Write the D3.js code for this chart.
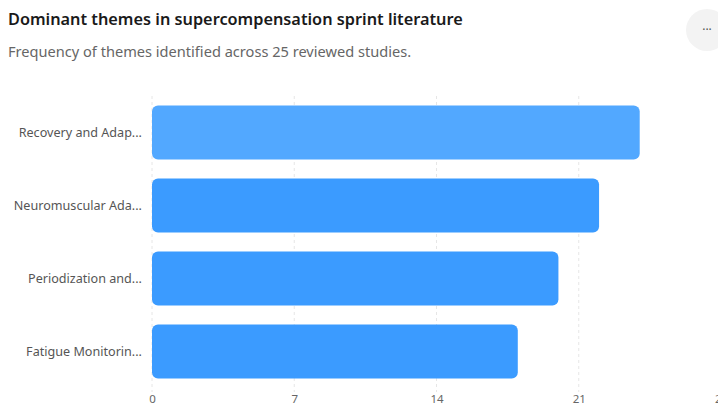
<!DOCTYPE html>
<html>
<head>
<meta charset="utf-8">
<script src="https://cdn.jsdelivr.net/npm/d3@7/dist/d3.min.js"></script>
<style>
  html, body { margin: 0; padding: 0; background: #fff; }
  svg { display: block; font-family: "Noto Sans", "Open Sans", sans-serif; }
</style>
</head>
<body>
<svg id="chart" width="718" height="409"></svg>
<script>
const categories = ["Recovery and Adap...", "Neuromuscular Ada...", "Periodization and...", "Fatigue Monitorin..."];
const values = [24, 22, 20, 18];
const tickValues = [0, 7, 14, 21, 28];
const barColors = ["#52a8ff", "#3b9bff", "#3b9bff", "#3b9bff"];

const svg = d3.select("#chart");

svg.append("text").attr("x", 8).attr("y", 25)
  .attr("font-size", 16.3).attr("font-weight", 600).attr("fill", "#1a1a1a")
  .text("Dominant themes in supercompensation sprint literature");
svg.append("text").attr("x", 8).attr("y", 57)
  .attr("font-size", 14.6).attr("fill", "#666")
  .text("Frequency of themes identified across 25 reviewed studies.");

// menu button
svg.append("circle").attr("cx", 707).attr("cy", 30).attr("r", 21).attr("fill", "#f3f3f3");
svg.append("text").attr("x", 707).attr("y", 34).attr("text-anchor", "middle")
  .attr("font-size", 12).attr("fill", "#555").text("···");

const x = d3.scaleLinear().domain([0, 28]).range([152, 721]);
const y = d3.scaleBand().domain(categories).range([96, 388]).paddingInner(0.26).paddingOuter(0.13);

// grid
svg.append("g").selectAll("line").data(tickValues).join("line")
  .attr("x1", d => x(d)).attr("x2", d => x(d))
  .attr("y1", 96).attr("y2", 392)
  .attr("stroke", "#e6e6e6").attr("stroke-width", 1).attr("stroke-dasharray", "3,3");

// bars
svg.append("g").selectAll("rect").data(categories).join("rect")
  .attr("x", x(0)).attr("y", d => y(d))
  .attr("width", (d, i) => x(values[i]) - x(0))
  .attr("height", y.bandwidth())
  .attr("rx", 6).attr("ry", 6)
  .attr("fill", (d, i) => barColors[i]);

// y axis labels
const yAxis = d3.axisLeft(y).tickSize(0).tickPadding(10);
const gy = svg.append("g").attr("transform", `translate(${x(0)},0)`).call(yAxis);
gy.select(".domain").remove();
gy.selectAll("text").attr("font-size", 12.6).attr("fill", "#555").attr("font-family", "\"Noto Sans\", sans-serif");

// x axis
const xAxis = d3.axisBottom(x).tickValues(tickValues).tickSize(0).tickPadding(5);
const gx = svg.append("g").attr("transform", `translate(0,390)`).call(xAxis);
gx.select(".domain").remove();
gx.selectAll("text").attr("font-size", 11.5).attr("fill", "#666").attr("font-family", "\"Noto Sans\", sans-serif");
</script>
</body>
</html>
